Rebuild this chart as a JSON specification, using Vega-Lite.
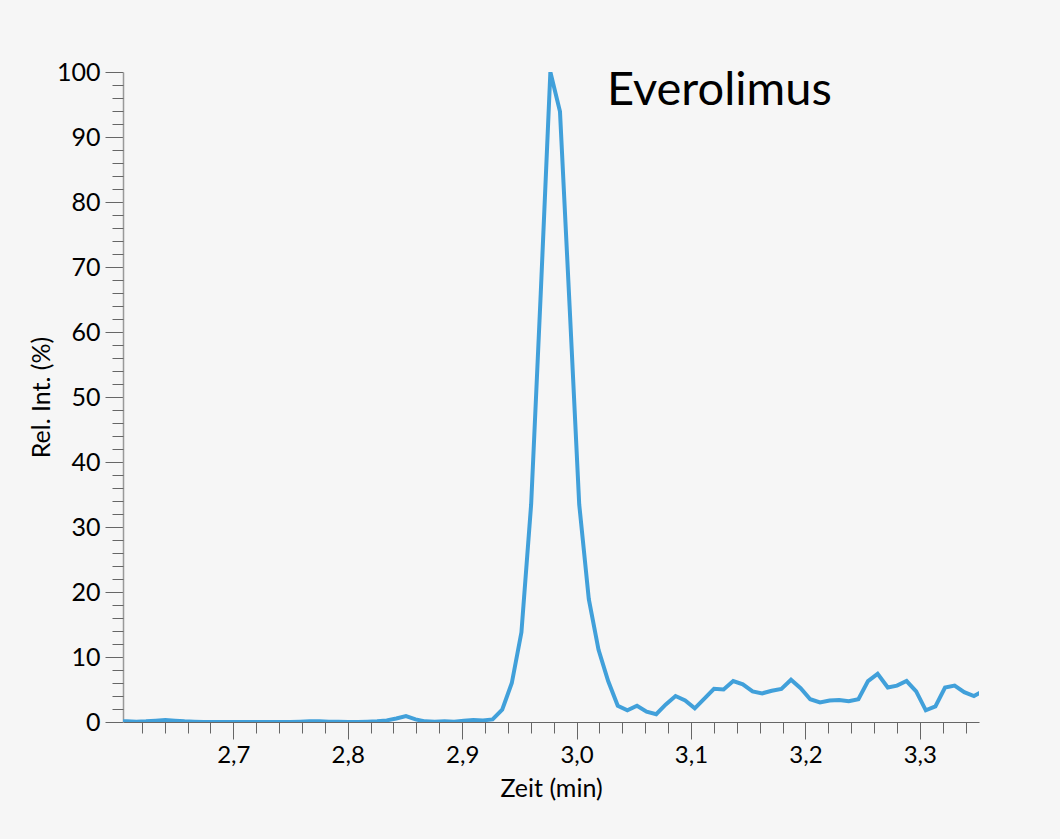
{
  "$schema": "https://vega.github.io/schema/vega-lite/v6.json",
  "width": 856,
  "height": 650,
  "autosize": {"type": "none"},
  "padding": {"left": 123, "top": 72, "right": 81, "bottom": 117},
  "background": "#f6f6f6",
  "config": {"view": {"stroke": null}, "font": "Lato", "axis": {"grid": false}},
  "resolve": {"axis": {"x": "independent", "y": "independent"}},
  "layer": [
    {
      "data": {"values": [
        {"t": 2.5985, "v": 0.15}, {"t": 2.6069, "v": 0.1}, {"t": 2.6153, "v": 0.05}, {"t": 2.6237, "v": 0.1},
        {"t": 2.6322, "v": 0.2}, {"t": 2.6406, "v": 0.3}, {"t": 2.649, "v": 0.2}, {"t": 2.6574, "v": 0.1},
        {"t": 2.6658, "v": 0.05}, {"t": 2.6742, "v": 0.0}, {"t": 2.6826, "v": 0.0}, {"t": 2.691, "v": 0.0},
        {"t": 2.6995, "v": 0.0}, {"t": 2.7079, "v": 0.0}, {"t": 2.7163, "v": 0.0}, {"t": 2.7247, "v": 0.0},
        {"t": 2.7331, "v": 0.0}, {"t": 2.7415, "v": 0.0}, {"t": 2.7499, "v": 0.0}, {"t": 2.7584, "v": 0.05},
        {"t": 2.7668, "v": 0.1}, {"t": 2.7752, "v": 0.1}, {"t": 2.7836, "v": 0.05}, {"t": 2.792, "v": 0.05},
        {"t": 2.8004, "v": 0.0}, {"t": 2.8088, "v": 0.0}, {"t": 2.8172, "v": 0.05}, {"t": 2.8257, "v": 0.1},
        {"t": 2.8341, "v": 0.25}, {"t": 2.8425, "v": 0.55}, {"t": 2.8509, "v": 0.9}, {"t": 2.8593, "v": 0.4},
        {"t": 2.8677, "v": 0.1}, {"t": 2.8761, "v": 0.05}, {"t": 2.8845, "v": 0.1}, {"t": 2.893, "v": 0.05},
        {"t": 2.9014, "v": 0.2}, {"t": 2.9098, "v": 0.3}, {"t": 2.9182, "v": 0.25}, {"t": 2.9266, "v": 0.4},
        {"t": 2.935, "v": 1.9}, {"t": 2.9434, "v": 6.0}, {"t": 2.9518, "v": 13.8}, {"t": 2.9603, "v": 33.5},
        {"t": 2.9687, "v": 66.0}, {"t": 2.9771, "v": 100.0}, {"t": 2.9855, "v": 93.9}, {"t": 2.9939, "v": 64.0},
        {"t": 3.0023, "v": 33.5}, {"t": 3.0107, "v": 18.9}, {"t": 3.0192, "v": 11.1}, {"t": 3.0276, "v": 6.3},
        {"t": 3.036, "v": 2.5}, {"t": 3.0444, "v": 1.8}, {"t": 3.0528, "v": 2.5}, {"t": 3.0612, "v": 1.6},
        {"t": 3.0696, "v": 1.2}, {"t": 3.078, "v": 2.7}, {"t": 3.0865, "v": 4.0}, {"t": 3.0949, "v": 3.3},
        {"t": 3.1033, "v": 2.1}, {"t": 3.1117, "v": 3.6}, {"t": 3.1201, "v": 5.1}, {"t": 3.1285, "v": 5.0},
        {"t": 3.1369, "v": 6.3}, {"t": 3.1453, "v": 5.8}, {"t": 3.1538, "v": 4.7}, {"t": 3.1622, "v": 4.4},
        {"t": 3.1706, "v": 4.8}, {"t": 3.179, "v": 5.1}, {"t": 3.1874, "v": 6.5}, {"t": 3.1958, "v": 5.2},
        {"t": 3.2042, "v": 3.5}, {"t": 3.2127, "v": 3.0}, {"t": 3.2211, "v": 3.3}, {"t": 3.2295, "v": 3.4},
        {"t": 3.2379, "v": 3.2}, {"t": 3.2463, "v": 3.5}, {"t": 3.2547, "v": 6.3}, {"t": 3.2631, "v": 7.4},
        {"t": 3.272, "v": 5.3}, {"t": 3.28, "v": 5.6}, {"t": 3.2884, "v": 6.3}, {"t": 3.2968, "v": 4.7},
        {"t": 3.3052, "v": 1.8}, {"t": 3.3136, "v": 2.4}, {"t": 3.322, "v": 5.3}, {"t": 3.3304, "v": 5.6},
        {"t": 3.3388, "v": 4.6}, {"t": 3.3473, "v": 4.0}, {"t": 3.3557, "v": 4.8}
      ]},
      "mark": {"type": "line", "color": "#41a0da", "strokeWidth": 4, "clip": true},
      "encoding": {
        "x": {
          "field": "t", "type": "quantitative",
          "scale": {"domain": [2.6036, 3.3517], "nice": false, "zero": false},
          "axis": {
            "orient": "bottom",
            "title": "Zeit (min)",
            "tickCount": 500,
            "values": [2.7, 2.8, 2.9, 3.0, 3.1, 3.2, 3.3],
            "labelExpr": "replace(format(datum.value, '.1f'), '.', ',')",
            "tickSize": 17,
            "labelFontSize": 24,
            "labelColor": "#000",
            "labelPadding": 4,
            "labelOverlap": false,
            "labelFlush": false,
            "tickColor": "#666",
            "domainColor": "#666",
            "titleFontSize": 25,
            "titleFontWeight": "normal",
            "titleColor": "#000",
            "titlePadding": 9
          }
        },
        "y": {
          "field": "v", "type": "quantitative",
          "scale": {"domain": [0, 100], "nice": false},
          "axis": {
            "orient": "left",
            "title": "Rel. Int. (%)",
            "tickCount": 500,
            "values": [0, 10, 20, 30, 40, 50, 60, 70, 80, 90, 100],
            "labelExpr": "format(datum.value, 'd')",
            "tickSize": 18,
            "labelFontSize": 25,
            "labelColor": "#000",
            "labelPadding": 5,
            "labelOverlap": false,
            "labelFlush": false,
            "tickColor": "#666",
            "domainColor": "#999",
            "domainWidth": 1.5,
            "titleFontSize": 25,
            "titleFontWeight": "normal",
            "titleColor": "#000",
            "titlePadding": 2
          }
        }
      }
    },
    {
      "data": {"values": [{"t": 3.0265, "v": 94.9, "label": "Everolimus"}]},
      "mark": {"type": "text", "align": "left", "baseline": "alphabetic", "fontSize": 47, "font": "Lato", "color": "#000"},
      "encoding": {
        "x": {
          "field": "t", "type": "quantitative",
          "axis": {
            "orient": "bottom",
            "title": null,
            "tickCount": 500,
            "values": [2.62, 2.64, 2.66, 2.68, 2.72, 2.74, 2.76, 2.78, 2.82, 2.84, 2.86, 2.88, 2.92, 2.94, 2.96, 2.98, 3.02, 3.04, 3.06, 3.08, 3.12, 3.14, 3.16, 3.18, 3.22, 3.24, 3.26, 3.28, 3.32, 3.34],
            "labels": false,
            "domain": false,
            "tickSize": 11,
            "tickColor": "#666"
          }
        },
        "y": {
          "field": "v", "type": "quantitative",
          "axis": {
            "orient": "left",
            "title": null,
            "tickCount": 500,
            "values": [2, 4, 6, 8, 12, 14, 16, 18, 22, 24, 26, 28, 32, 34, 36, 38, 42, 44, 46, 48, 52, 54, 56, 58, 62, 64, 66, 68, 72, 74, 76, 78, 82, 84, 86, 88, 92, 94, 96, 98],
            "labels": false,
            "domain": false,
            "tickSize": 11,
            "tickColor": "#666"
          }
        },
        "text": {"field": "label"}
      }
    }
  ]
}
